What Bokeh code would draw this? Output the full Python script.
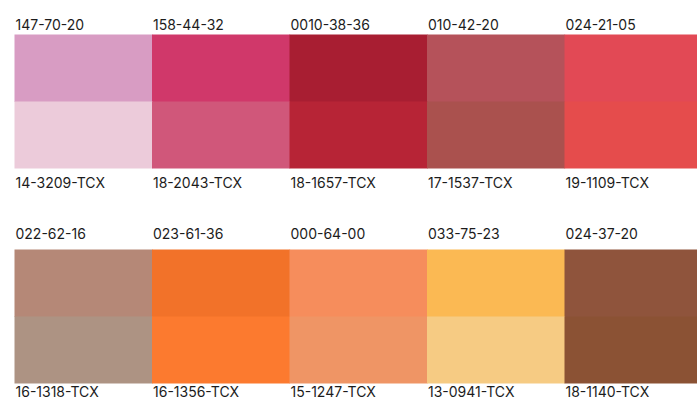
from bokeh.plotting import figure
from bokeh.models import Range1d
from bokeh.embed import file_html
from bokeh.resources import INLINE
from bokeh.core.properties import value

# ---- data ----
row1_top_labels = ["147-70-20", "158-44-32", "0010-38-36", "010-42-20", "024-21-05"]
row1_bottom_labels = ["14-3209-TCX", "18-2043-TCX", "18-1657-TCX", "17-1537-TCX", "19-1109-TCX"]
row1_top_colors = ["#D89CC3", "#D0386A", "#A81E32", "#B5525A", "#E24955"]
row1_bottom_colors = ["#ECCBDA", "#D0577A", "#B72436", "#AA514E", "#E54C4C"]

row2_top_labels = ["022-62-16", "023-61-36", "000-64-00", "033-75-23", "024-37-20"]
row2_bottom_labels = ["16-1318-TCX", "16-1356-TCX", "15-1247-TCX", "13-0941-TCX", "18-1140-TCX"]
row2_top_colors = ["#B58877", "#F27229", "#F68D5C", "#FBB953", "#8F543C"]
row2_bottom_colors = ["#AD9383", "#FC7A2F", "#EF9565", "#F6CB83", "#8B5234"]

rows = [
    (row1_top_labels, row1_bottom_labels, row1_top_colors, row1_bottom_colors),
    (row2_top_labels, row2_bottom_labels, row2_top_colors, row2_bottom_colors),
]

# ---- layout (pixels of the picture) ----
W, H = 697, 400
X0 = 14.0          # left edge of first swatch
BW = 137.5         # swatch width
ROW_TOP = [34, 249]
HALF = 67
TOP_MID = [23.5, 233]
BOTTOM_MID = [182, 390.5]

p = figure(width=W, height=H, output_backend="svg", toolbar_location=None,
           x_range=Range1d(0, W), y_range=Range1d(H, 0),
           min_border=0, min_border_left=0, min_border_right=0,
           min_border_top=0, min_border_bottom=0)
p.axis.visible = False
p.grid.visible = False
p.outline_line_color = None
p.background_fill_color = "white"
p.border_fill_color = "white"

for r, (tl, bl, tc, bc) in enumerate(rows):
    n = len(tl)
    lefts = [X0 + i * BW for i in range(n)]
    rights = [x + BW + 0.6 for x in lefts]
    top = ROW_TOP[r]
    mid = top + HALF
    bot = mid + HALF
    p.quad(left=lefts, right=rights, top=[top] * n, bottom=[mid + 0.6] * n,
           fill_color=tc, line_color=None)
    p.quad(left=lefts, right=rights, top=[mid] * n, bottom=[bot] * n,
           fill_color=bc, line_color=None)
    p.text(x=[x + 1 for x in lefts], y=[TOP_MID[r]] * n, text=tl,
           text_font=value("Inter"), text_font_size="14px", text_color="#1c1c1c",
           text_baseline="middle", text_align="left")
    p.text(x=[x + 1 for x in lefts], y=[BOTTOM_MID[r]] * n, text=bl,
           text_font=value("Inter"), text_font_size="14px", text_color="#1c1c1c",
           text_baseline="middle", text_align="left")

open("out.html", "w").write(file_html(p, INLINE))
